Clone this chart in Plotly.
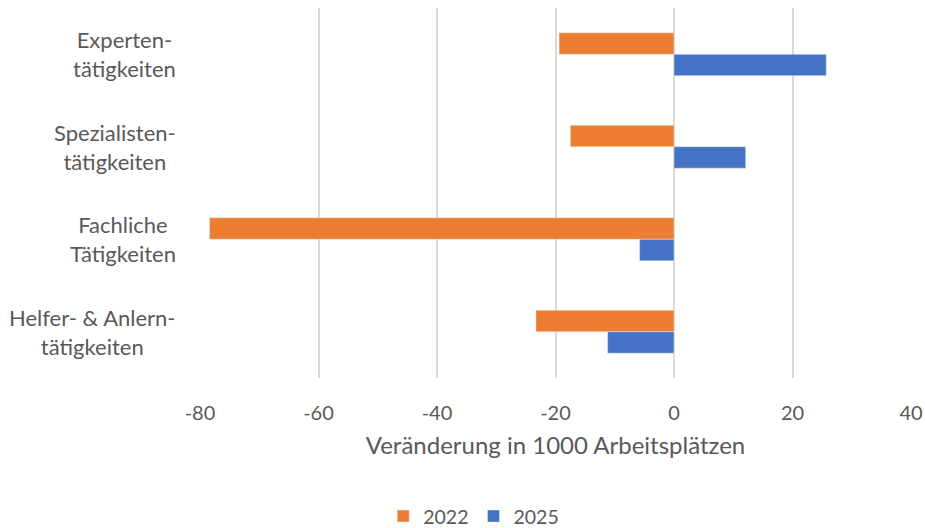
import plotly.graph_objects as go

# Occupational categories (top to bottom) and change in jobs (thousands)
categories = [
    "Experten-<br>tätigkeiten",
    "Spezialisten-<br>tätigkeiten",
    "Fachliche<br>Tätigkeiten",
    "Helfer- & Anlern-<br>tätigkeiten",
]
values_2022 = [-19.4, -17.5, -78.4, -23.3]
values_2025 = [25.7, 12.1, -5.8, -11.2]
x_ticks = [-80, -60, -40, -20, 0, 20, 40]

FONT = "Lato, Carlito, Calibri, sans-serif"
TEXT = "#595959"

fig = go.Figure()
fig.add_trace(go.Bar(y=categories, x=values_2022, name="2022", orientation="h",
                     marker=dict(color="#ED7D31")))
fig.add_trace(go.Bar(y=categories, x=values_2025, name="2025", orientation="h",
                     marker=dict(color="#4472C4")))

# Category labels: lines centred within each label block, block right-aligned
for cat in categories:
    fig.add_annotation(
        x=0, xref="paper", y=cat, yref="y",
        text=cat, showarrow=False, xanchor="right", yanchor="middle",
        align="center", xshift=-22,
        font=dict(size=22, color=TEXT, family=FONT),
    )

fig.update_layout(
    width=925, height=528,
    margin=dict(l=200, r=14, t=8, b=150, autoexpand=False),
    paper_bgcolor="white", plot_bgcolor="white",
    barmode="group", bargap=0.536, bargroupgap=0,
    font=dict(family=FONT, color=TEXT),
    showlegend=True,
    legend=dict(orientation="h", x=0.385, xanchor="center",
                y=-0.374, yanchor="middle",
                font=dict(size=19.5, color=TEXT), itemwidth=30),
    xaxis=dict(
        range=[-80, 40], tickvals=x_ticks, ticktext=[str(v) for v in x_ticks],
        showgrid=True, gridcolor="#D9D9D9", gridwidth=2,
        zeroline=True, zerolinecolor="#D9D9D9", zerolinewidth=2,
        showline=False, ticks="", tickfont=dict(size=20, color=TEXT),
        ticklabelstandoff=21, automargin=False,
        title=dict(text="Veränderung in 1000 Arbeitsplätzen",
                   font=dict(size=24, color=TEXT), standoff=14),
    ),
    yaxis=dict(
        autorange="reversed", showgrid=False, showline=False,
        showticklabels=False, ticks="", automargin=False,
    ),
)

fig.write_html("out.html")
